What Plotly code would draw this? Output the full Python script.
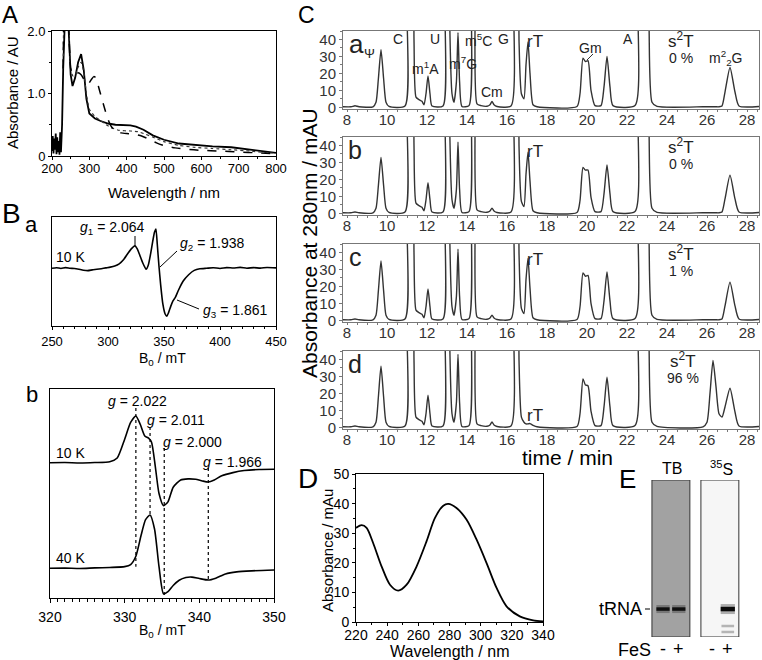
import plotly.graph_objects as go

W, H = 762, 660
FONT = "Liberation Sans, Arial, Helvetica, sans-serif"


def fx(p):
    return p / W


def fy(p):
    return 1 - p / H


# ---------------- Panel A : UV-vis spectra ----------------
a_wl_solid = [200, 202, 204, 206, 208, 210, 212, 214, 216, 218, 220, 222, 224, 227, 230, 233, 237, 241, 245, 250,
              255, 262, 270, 278, 285, 292, 300, 315, 330, 350, 370, 390, 410, 425, 445, 470, 500, 540, 580, 630,
              680, 730, 770, 800]
a_abs_solid = [0.08, 0.32, 0.04, 0.28, 0.1, 0.36, 0.03, 0.3, 0.06, 0.24, 0.02, 0.38, 0.06, 0.5, 1.4, 2.5, 2.6, 2.5, 2.0, 1.3,
               1.12, 1.25, 1.5, 1.63, 1.38, 0.92, 0.68, 0.6, 0.56, 0.52, 0.5, 0.49, 0.49, 0.47, 0.42, 0.33, 0.26, 0.2, 0.175, 0.155,
               0.14, 0.1, 0.07, 0.05]
a_wl_dash = [230, 233, 237, 241, 245, 250, 256, 263, 270, 278, 286, 292, 298, 305, 312, 318, 325, 332, 340, 348,
             356, 364, 372, 385, 400, 420, 440, 460, 480, 500, 530, 560, 600, 650, 700, 750, 800]
a_abs_dash = [1.4, 2.5, 2.6, 2.5, 2.0, 1.4, 1.3, 1.3, 1.33, 1.3, 1.22, 1.17, 1.16, 1.22, 1.27, 1.25, 1.1, 0.95, 0.78, 0.62,
              0.5, 0.43, 0.39, 0.37, 0.36, 0.35, 0.32, 0.27, 0.21, 0.165, 0.13, 0.11, 0.09, 0.08, 0.065, 0.05, 0.035]
a_wl_dot = [230, 233, 237, 241, 245, 250, 256, 263, 270, 278, 285, 292, 300, 315, 330, 345, 360, 380, 410, 430,
            450, 475, 500, 540, 580, 630, 680, 730, 770, 800]
a_abs_dot = [1.4, 2.5, 2.6, 2.5, 2.0, 1.4, 1.28, 1.3, 1.42, 1.5, 1.35, 1.0, 0.75, 0.63, 0.57, 0.5, 0.45, 0.41, 0.4, 0.39,
             0.35, 0.29, 0.23, 0.17, 0.14, 0.12, 0.1, 0.08, 0.055, 0.045]

# ---------------- Panel B a : EPR ----------------
ba_field = [250, 254, 258, 262, 266, 270, 274, 278, 282, 286, 290, 294, 298, 302, 306, 310, 314, 318, 321, 324,
            326, 328, 331, 334, 336, 338, 340, 341.5, 342.8, 344, 345.5, 347, 349, 351, 352.5, 354, 356, 358, 360, 363,
            367, 372, 377, 382, 388, 394, 400, 406, 412, 418, 424, 430, 436, 442, 450]
ba_signal = [0.53, 0.535, 0.528, 0.536, 0.53, 0.527, 0.52, 0.512, 0.508, 0.515, 0.52, 0.526, 0.533, 0.54, 0.55, 0.57, 0.61, 0.67, 0.71, 0.735,
             0.71, 0.66, 0.58, 0.52, 0.56, 0.66, 0.78, 0.86, 0.89, 0.75, 0.55, 0.38, 0.2, 0.11, 0.09, 0.12, 0.18, 0.23, 0.26, 0.33,
             0.41, 0.47, 0.51, 0.525, 0.53, 0.535, 0.528, 0.536, 0.532, 0.538, 0.53, 0.536, 0.531, 0.537, 0.533]

# ---------------- Panel B b : EPR 10 K / 40 K ----------------
bb_field10 = [320, 322, 324, 326, 328, 329, 330, 330.8, 331.5, 332.1, 332.7, 333.2, 333.6, 334.1, 334.6, 335.2, 335.8, 336.5, 337.5, 338.5,
              339.5, 340.4, 341.2, 342, 343, 344.5, 346, 348, 350]
bb_10K = [0.647, 0.648, 0.646, 0.648, 0.652, 0.67, 0.76, 0.84, 0.871, 0.83, 0.775, 0.765, 0.745, 0.63, 0.5, 0.442, 0.46, 0.53, 0.565, 0.57,
          0.568, 0.56, 0.555, 0.565, 0.585, 0.6, 0.61, 0.615, 0.616]
bb_field40 = [320, 322, 324, 326, 328, 330, 330.8, 331.5, 332.2, 332.8, 333.4, 334, 334.6, 335.2, 335.8, 336.5, 337.3, 338.2, 339, 340,
              341.2, 342.2, 343.5, 345, 347, 350]
bb_40K = [0.142, 0.143, 0.141, 0.144, 0.146, 0.15, 0.16, 0.2, 0.3, 0.375, 0.397, 0.33, 0.15, 0.02, 0.03, 0.06, 0.085, 0.098, 0.1, 0.093,
          0.086, 0.095, 0.115, 0.125, 0.13, 0.134]
bb_g_labels = ["2.022", "2.011", "2.000", "1.966"]
bb_g_field = [331.5, 333.4, 335.3, 341.2]
bb_g_top = [0.909, 0.818, 0.718, 0.622]
bb_g_bottom = [0.15, 0.397, 0.014, 0.086]

# ---------------- Panel C : HPLC chromatograms ----------------
c_time = [7.8, 8.2, 8.4, 8.6, 9.3, 9.45, 9.57, 9.7, 9.83, 9.95,
          10.1, 10.9, 11.0, 11.1, 11.25, 11.35, 11.45, 11.6, 11.75, 11.85,
          11.95, 12.05, 12.15, 12.25, 12.8, 12.9, 13.0, 13.12, 13.25, 13.35,
          13.47, 13.55, 13.63, 13.75, 14.1, 14.2, 14.3, 14.4, 14.5, 14.7,
          15.0, 15.15, 15.25, 15.35, 15.5, 16.2, 16.3, 16.45, 16.6, 16.72,
          16.85, 16.95, 17.05, 17.15, 17.3, 17.5, 19.5, 19.65, 19.8, 19.92,
          20.05, 20.2, 20.4, 20.7, 20.85, 21.0, 21.15, 21.3, 22.4, 22.55,
          22.7, 22.95, 23.1, 23.25, 23.5, 25.8, 26.0, 26.15, 26.3, 26.45,
          26.6, 26.75, 26.9, 27.15, 27.4, 27.6, 28.6]
c_a = [0.3, 0.3, 0.9, 0.3, 0.3, 3, 17, 34, 17, 3,
       0.5, 0.8, 60, 300, 300, 40, 6, 4.5, 3.5, 1.5,
       8, 18.5, 8, 0.8, 0.8, 60, 300, 60, 8, 3,
       15, 44, 15, 0.5, 1, 80, 300, 60, 2, 1,
       0.6, 1.5, 3.5, 1.5, 0.5, 0.8, 80, 300, 40, 8,
       5, 25, 38.6, 20, 1.5, 0.3, 0.5, 8, 29, 27,
       27.5, 10, 1, 1, 12, 30, 12, 1, 1, 60,
       300, 300, 50, 3, 0.5, 0.3, 0.3, 0.3, 0.3, 0.3,
       0.3, 0.8, 9, 23.5, 9, 0.8, 0.5]
c_b = [0.3, 0.3, 0.8, 0.3, 0.3, 3, 16.5, 33, 16.5, 3,
       0.5, 0.8, 60, 300, 300, 40, 6, 4.5, 3.5, 1.5,
       8, 18, 8, 0.8, 0.8, 60, 300, 60, 8, 3,
       14, 42, 14, 0.5, 1, 80, 300, 60, 2, 1,
       0.6, 1.4, 3, 1.4, 0.5, 0.8, 80, 300, 40, 7,
       4, 23, 36, 19, 1.5, 0.3, 0.5, 7.5, 27, 25.5,
       25.5, 9.5, 1, 1, 11.5, 28.5, 11.5, 1, 1, 60,
       300, 300, 50, 3, 0.5, 0.3, 0.3, 0.3, 0.3, 0.3,
       0.3, 0.8, 8.5, 22.5, 8.5, 0.8, 0.5]
c_c = [0.3, 0.3, 0.8, 0.3, 0.3, 3, 17.5, 35, 17.5, 3,
       0.5, 0.8, 60, 300, 300, 40, 6, 4.5, 3.5, 1.5,
       8, 18.5, 8, 0.8, 0.8, 60, 300, 60, 8, 3,
       14, 42, 14, 0.5, 1, 80, 300, 60, 2, 1,
       0.6, 1.4, 3, 1.4, 0.5, 0.8, 80, 300, 40, 7,
       4, 24, 36.5, 19, 1.5, 0.3, 0.5, 8, 28, 26,
       26.5, 10, 1, 1, 11.5, 28.5, 11.5, 1, 1, 60,
       300, 300, 50, 3, 0.5, 0.3, 0.3, 0.3, 0.3, 0.3,
       0.3, 0.8, 8.5, 22.5, 8.5, 0.8, 0.5]
c_d = [0.3, 0.3, 0.8, 0.3, 0.3, 3, 18, 36, 18, 3,
       0.5, 0.8, 60, 300, 300, 40, 6, 4.5, 3.5, 1.5,
       8, 19, 8, 0.8, 0.8, 60, 300, 60, 8, 3,
       14.5, 43, 14.5, 0.5, 1, 80, 300, 60, 2, 1,
       0.6, 1.4, 3.2, 1.4, 0.5, 0.8, 80, 300, 40, 6,
       3, 2, 2, 2.2, 1.2, 0.3, 0.5, 8, 28.5, 25,
       24.5, 9.5, 1, 1, 12, 29.5, 12, 1, 1, 60,
       300, 300, 50, 3, 0.5, 0.3, 3, 20, 39.5, 24,
       8, 6, 12, 23, 9, 0.8, 0.5]
c_s2T_percent = ["0 %", "0 %", "1 %", "96 %"]
c_panel_names = ["a", "b", "c", "d"]

# ---------------- Panel D : spectrum ----------------
d_wl = [220, 223.6, 226.8, 231, 236.4, 241.8, 247.1, 252.5, 258.9, 265.3, 270.6, 276, 279.2, 284.5, 290.9, 297.4,
        303.8, 310.2, 316.6, 325.1, 333.7, 340]
d_abs = [31.8, 32.7, 31.8, 26.7, 18.8, 12.6, 10.6, 12.6, 18.8, 27.3, 35.1, 39.3, 39.9, 38.5, 34.6, 27.8,
         19.9, 11.5, 5.3, 1.9, 0.56, 0.2]

# ---------------- Panel E : gels ----------------
e_lane_labels = ["-", "+", "-", "+"]
e_tb_band = [1.0, 1.0]
e_s35_band = [0.0, 1.0]
e_s35_minor = [0.0, 0.35]

fig = go.Figure()

BASE = dict(showline=True, linecolor="black", linewidth=1, mirror=True, ticks="outside", ticklen=4,
            tickcolor="black", showgrid=False, zeroline=False)


def xax(x0, x1, rng, anchor, size=13, color="black", **kw):
    d = dict(BASE)
    d.update(domain=[fx(x0), fx(x1)], range=rng, anchor=anchor,
             tickfont=dict(family=FONT, size=size, color=color))
    d.update(kw)
    return d


def yax(top, bottom, rng, anchor, size=13, color="black", **kw):
    d = dict(BASE)
    d.update(domain=[fy(bottom), fy(top)], range=rng, anchor=anchor,
             tickfont=dict(family=FONT, size=size, color=color))
    d.update(kw)
    return d


layout = {}
# A
layout["xaxis"] = xax(52, 276, [200, 800], "y", 13, tick0=200, dtick=100, ticklen=3, ticklabelstandoff=-3,
                      minor=dict(ticks="outside", ticklen=2, dtick=50, tickcolor="black"))
layout["yaxis"] = yax(31, 156, [0, 2.0], "x", 13, tickvals=[0, 1, 2], ticktext=["0", "1.0", "2.0"], ticklen=3,
                      minor=dict(ticks="outside", ticklen=2, dtick=0.5, tickcolor="black"))
# Ba
layout["xaxis2"] = xax(52, 276, [250, 450], "y2", 13, tick0=250, dtick=50, ticklen=3,
                       minor=dict(ticks="outside", ticklen=2, dtick=10, tickcolor="black"))
layout["yaxis2"] = yax(217, 326, [0, 1], "x2", showticklabels=False, ticks="")
# Bb
layout["xaxis3"] = xax(50, 274, [320, 350], "y3", 14, tick0=320, dtick=10, ticklen=4, ticklabelstandoff=2,
                       minor=dict(ticks="outside", ticklen=3, dtick=1, tickcolor="black"))
layout["yaxis3"] = yax(389, 598, [0, 1], "x3", showticklabels=False, ticks="")
# C panels
c_doms = [(31, 109), (137, 215), (244, 322), (351, 429)]
for i, (t, b) in enumerate(c_doms):
    n = 4 + i
    layout[f"xaxis{n}"] = xax(343, 759, [7.8, 28.6], f"y{n}", 15, color="#333", tick0=8, dtick=2,
                              linecolor="#777", tickcolor="#777", ticklen=2, ticklabelstandoff=-5,
                              minor=dict(ticks="outside", ticklen=2, dtick=0.5, tickcolor="#777"))
    layout[f"yaxis{n}"] = yax(t, b, [-1, 45], f"x{n}", 15, color="#333", tickvals=[0, 10, 20, 30, 40],
                              linecolor="#777", tickcolor="#777", ticklen=3,
                              minor=dict(ticks="outside", ticklen=2, dtick=5, tickcolor="#777"))
# D
layout["xaxis8"] = xax(356, 543, [220, 340], "y8", 14, tick0=220, dtick=20, ticklen=3, ticklabelstandoff=-3,
                       minor=dict(ticks="outside", ticklen=2, dtick=10, tickcolor="black"))
layout["yaxis8"] = yax(474, 622, [0, 50], "x8", 14, dtick=10, ticklen=3,
                       minor=dict(ticks="outside", ticklen=2, dtick=5, tickcolor="black"))
# E
lane_x = [0, 1, 3.1, 4.1]
layout["xaxis9"] = dict(domain=[fx(645), fx(745)], range=[-1.14, 5.19], anchor="y9", visible=False)
layout["yaxis9"] = dict(domain=[fy(637), fy(480)], range=[0, 1], anchor="x9", visible=False)

# ---- traces ----
fig.add_trace(go.Scatter(x=a_wl_solid, y=a_abs_solid, mode="lines", line=dict(color="black", width=1.8),
                         xaxis="x", yaxis="y"))
fig.add_trace(go.Scatter(x=a_wl_dot, y=a_abs_dot, mode="lines",
                         line=dict(color="#333", width=1.2, dash="dot", shape="spline", smoothing=0.5),
                         xaxis="x", yaxis="y"))
fig.add_trace(go.Scatter(x=a_wl_dash, y=a_abs_dash, mode="lines",
                         line=dict(color="black", width=1.5, dash="dash", shape="spline", smoothing=0.5),
                         xaxis="x", yaxis="y"))
fig.add_trace(go.Scatter(x=ba_field, y=ba_signal, mode="lines",
                         line=dict(color="black", width=1.6, shape="spline", smoothing=0.5),
                         xaxis="x2", yaxis="y2"))
for gf, gt, gb in zip(bb_g_field, bb_g_top, bb_g_bottom):
    fig.add_trace(go.Scatter(x=[gf, gf], y=[gt, gb], mode="lines", line=dict(color="black", width=1.2, dash="dot"),
                             xaxis="x3", yaxis="y3"))
fig.add_trace(go.Scatter(x=bb_field10, y=bb_10K, mode="lines",
                         line=dict(color="black", width=1.6, shape="spline", smoothing=0.6),
                         xaxis="x3", yaxis="y3"))
fig.add_trace(go.Scatter(x=bb_field40, y=bb_40K, mode="lines",
                         line=dict(color="black", width=1.6, shape="spline", smoothing=0.6),
                         xaxis="x3", yaxis="y3"))
for i, vals in enumerate([c_a, c_b, c_c, c_d]):
    n = 4 + i
    fig.add_trace(go.Scatter(x=c_time, y=vals, mode="lines",
                             line=dict(color="#333", width=1.4, shape="spline", smoothing=0.6),
                             xaxis=f"x{n}", yaxis=f"y{n}"))
fig.add_trace(go.Scatter(x=d_wl, y=d_abs, mode="lines",
                         line=dict(color="black", width=1.8, shape="spline", smoothing=0.8),
                         xaxis="x8", yaxis="y8"))

# E gels
shapes = []
shapes.append(dict(type="rect", xref="x9", yref="y9", x0=-0.7, x1=1.7, y0=0, y1=1,
                   fillcolor="#a2a2a2", line=dict(color="#333", width=1), layer="below"))
shapes.append(dict(type="rect", xref="x9", yref="y9", x0=2.4, x1=4.8, y0=0, y1=1,
                   fillcolor="#f6f6f6", line=dict(color="#333", width=1), layer="below"))
band_y = 0.178
for lx, inten in zip(lane_x[:2], e_tb_band):
    fig.add_trace(go.Scatter(x=[lx - 0.42, lx + 0.42], y=[band_y, band_y], mode="lines",
                             line=dict(color=f"rgba(40,40,40,{0.35 * inten})", width=8), xaxis="x9", yaxis="y9"))
    fig.add_trace(go.Scatter(x=[lx - 0.42, lx + 0.42], y=[band_y, band_y], mode="lines",
                             line=dict(color=f"rgba(15,15,15,{inten})", width=3.5), xaxis="x9", yaxis="y9"))
for lx, inten, minor in zip(lane_x[2:], e_s35_band, e_s35_minor):
    if inten > 0:
        fig.add_trace(go.Scatter(x=[lx - 0.45, lx + 0.45], y=[band_y, band_y], mode="lines",
                                 line=dict(color=f"rgba(40,40,40,{0.35 * inten})", width=10), xaxis="x9", yaxis="y9"))
        fig.add_trace(go.Scatter(x=[lx - 0.45, lx + 0.45], y=[band_y, band_y], mode="lines",
                                 line=dict(color=f"rgba(10,10,10,{inten})", width=4.5), xaxis="x9", yaxis="y9"))
    if minor > 0:
        for yy in (0.07, 0.032):
            fig.add_trace(go.Scatter(x=[lx - 0.4, lx + 0.4], y=[yy, yy], mode="lines",
                                     line=dict(color=f"rgba(60,60,60,{minor})", width=2.5), xaxis="x9", yaxis="y9"))


def line_px(x0, y0, x1, y1, color="black", width=1):
    shapes.append(dict(type="line", xref="paper", yref="paper", x0=fx(x0), y0=fy(y0), x1=fx(x1), y1=fy(y1),
                       line=dict(color=color, width=width)))


line_px(135, 236, 135, 246)
line_px(160, 267, 177, 251)
line_px(177, 300, 199, 309)
line_px(593, 54, 587, 60, color="#333")
line_px(645, 609, 650, 609)

anns = []


def ann(x, y, text, size=14, xanchor="center", angle=0, color="black"):
    anns.append(dict(x=fx(x), y=fy(y), xref="paper", yref="paper", text=text, showarrow=False,
                     xanchor=xanchor, yanchor="middle", textangle=angle, borderpad=0,
                     font=dict(family=FONT, size=size, color=color)))


ann(10, 14, "A", 24)
ann(13, 93, "Absorbance / AU", 15, angle=-90)
ann(164, 192, "Wavelength / nm", 15)
ann(11, 213, "B", 28)
ann(31, 225, "a", 22)
ann(70, 257, "10 K", 14)
ann(112, 228, "<i>g</i><sub>1</sub> = 2.064", 14)
ann(212, 244, "<i>g</i><sub>2</sub> = 1.938", 14)
ann(235, 311, "<i>g</i><sub>3</sub> = 1.861", 14)
ann(162, 359, "B<sub>0</sub> / mT", 14)
ann(32, 394, "b", 22)
ann(70, 453, "10 K", 14)
ann(70, 558, "40 K", 14)
for lab, cx, cy in zip(bb_g_labels, [137, 176, 192, 233], [401, 420, 442, 462]):
    ann(cx, cy, f"<i>g</i> = {lab}", 14)
ann(162, 631, "B<sub>0</sub> / mT", 14)
ann(306, 15, "C", 23)
ann(309, 243, "Absorbance at 280nm / mAU", 21, angle=-90)
ann(567, 457, "time / min", 21)
GR = "#222"
ann(356, 44, "a", 26, color=GR)
ann(369, 53, "Ψ", 13, color=GR)
ann(397.7, 39.3, "C", 14, color=GR)
ann(435, 39.3, "U", 14, color=GR)
ann(425, 68.3, "m<sup>1</sup>A", 14, color=GR)
ann(463.3, 63.3, "m<sup>7</sup>G", 14, color=GR)
ann(478.3, 40, "m<sup>5</sup>C", 14, color=GR)
ann(503.3, 39.3, "G", 14, color=GR)
ann(491.7, 91.7, "Cm", 14, color=GR)
ann(590, 48.3, "Gm", 14, color=GR)
ann(628.3, 39.3, "A", 14, color=GR)
ann(725, 58.3, "m<sup>2</sup><sub>2</sub>G", 14, color=GR)
panel_tops = [31, 137, 244, 351]
rT_y = [41.7, 151.7, 259.7, 415]
for i in range(4):
    t = panel_tops[i]
    if i > 0:
        ann(355, t + 13, c_panel_names[i], 25, color=GR)
    ann(535, rT_y[i], "rT", 17, color=GR)
    sx = 683 if i == 3 else 681
    ann(sx, t + 9, "s<sup>2</sup>T", 17, color=GR)
    ann(sx, t + 27, c_s2T_percent[i], 14, color=GR)
ann(308, 478, "D", 28)
ann(327, 551, "Absorbance / mAu", 15, angle=-90)
ann(450, 651, "Wavelength / nm", 16)
ann(627, 479, "E", 26)
ann(672, 468, "TB", 16)
ann(721, 468, "<sup>35</sup>S", 16)
ann(643, 609, "tRNA", 18, xanchor="right")
ann(634, 650, "FeS", 18)
for lx, lab in zip(lane_x, e_lane_labels):
    anns.append(dict(x=lx, y=fy(649), xref="x9", yref="paper", text=lab, showarrow=False,
                     xanchor="center", yanchor="middle", font=dict(family=FONT, size=18, color="black")))

layout.update(dict(width=W, height=H, margin=dict(l=0, r=0, t=0, b=0, autoexpand=False), paper_bgcolor="white",
                   plot_bgcolor="rgba(0,0,0,0)", showlegend=False, shapes=shapes, annotations=anns,
                   font=dict(family=FONT)))
fig.update_layout(**layout)
fig.write_html("out.html", config={"displayModeBar": False},
               post_script="document.body.style.margin='0';document.body.style.overflow='hidden';")
